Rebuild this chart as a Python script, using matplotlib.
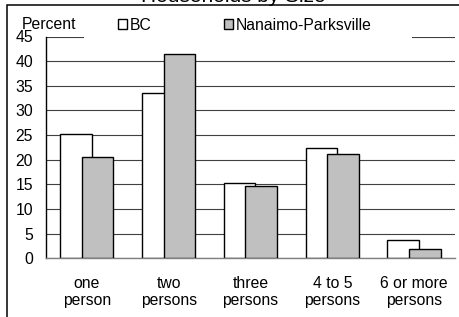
import matplotlib.pyplot as plt
import numpy as np
from matplotlib.patches import Rectangle, Patch

# Data
categories = ["one\nperson", "two\npersons", "three\npersons", "4 to 5\npersons", "6 or more\npersons"]
bc_values = [25.3, 33.6, 15.3, 22.3, 3.8]
nanaimo_values = [20.6, 41.5, 14.6, 21.2, 1.8]
series_names = ["BC", "Nanaimo-Parksville"]

plt.rcParams['font.family'] = ['Liberation Sans', 'DejaVu Sans']
W, H = 459, 317
fig = plt.figure(figsize=(W / 100, H / 100), dpi=100)
ax = fig.add_axes([46 / W, 1 - 258.3 / H, 409 / W, (258.3 - 36.5) / H])

x = np.arange(len(categories))
width = 0.386
ax.bar(x - 0.133, bc_values, width, color='white', edgecolor='black', linewidth=1.0, zorder=2)
ax.bar(x + 0.13, nanaimo_values, width, color='#c0c0c0', edgecolor='black', linewidth=1.0, zorder=3)

ax.set_xlim(-0.5, len(categories) - 0.5)
ax.set_ylim(0, 45)
ax.set_yticks(np.arange(0, 46, 5))
ax.set_xticks(x)
ax.set_xticklabels(categories, fontsize=11.3, linespacing=1.2)
ax.tick_params(axis='y', length=0, pad=9.4, labelsize=11.3)
ax.tick_params(axis='x', length=0, pad=12.5)
ax.yaxis.grid(True, color='#404040', linewidth=0.8)
ax.set_axisbelow(True)
for s in ['top', 'right']:
    ax.spines[s].set_visible(False)
ax.spines['left'].set_color('black')
ax.spines['left'].set_linewidth(1.0)
ax.spines['bottom'].set_color('#808080')
ax.spines['bottom'].set_linewidth(1.0)

# white area behind the legend hides the top gridline
ax.add_patch(Rectangle((0.093, 0.98), 0.802, 0.2, transform=ax.transAxes,
                       facecolor='white', edgecolor='none', zorder=1, clip_on=False))

handles = [Patch(facecolor='white', edgecolor='black', linewidth=1.0),
           Patch(facecolor='#c0c0c0', edgecolor='black', linewidth=1.0)]
fig.legend(handles, series_names, loc='center left', bbox_to_anchor=(118 / W, 1 - 25 / H),
           ncol=2, frameon=False, borderpad=0, borderaxespad=0, fontsize=11.3,
           handlelength=0.6, handleheight=0.6, handletextpad=0.15, columnspacing=4.6)

fig.text(22 / W, 1 - 29.3 / H, "Percent", fontsize=11.3, ha='left', va='baseline')
fig.text(233 / W, 1 - 1.5 / H, "Households by Size", fontsize=15, ha='center', va='baseline')

# outer chart border
fig.add_artist(Rectangle((7 / W, -0.1), 1.2, 1 - 4.7 / H + 0.1, transform=fig.transFigure,
                         fill=False, edgecolor='black', linewidth=1.1))

fig.savefig("out.png", dpi=100)
